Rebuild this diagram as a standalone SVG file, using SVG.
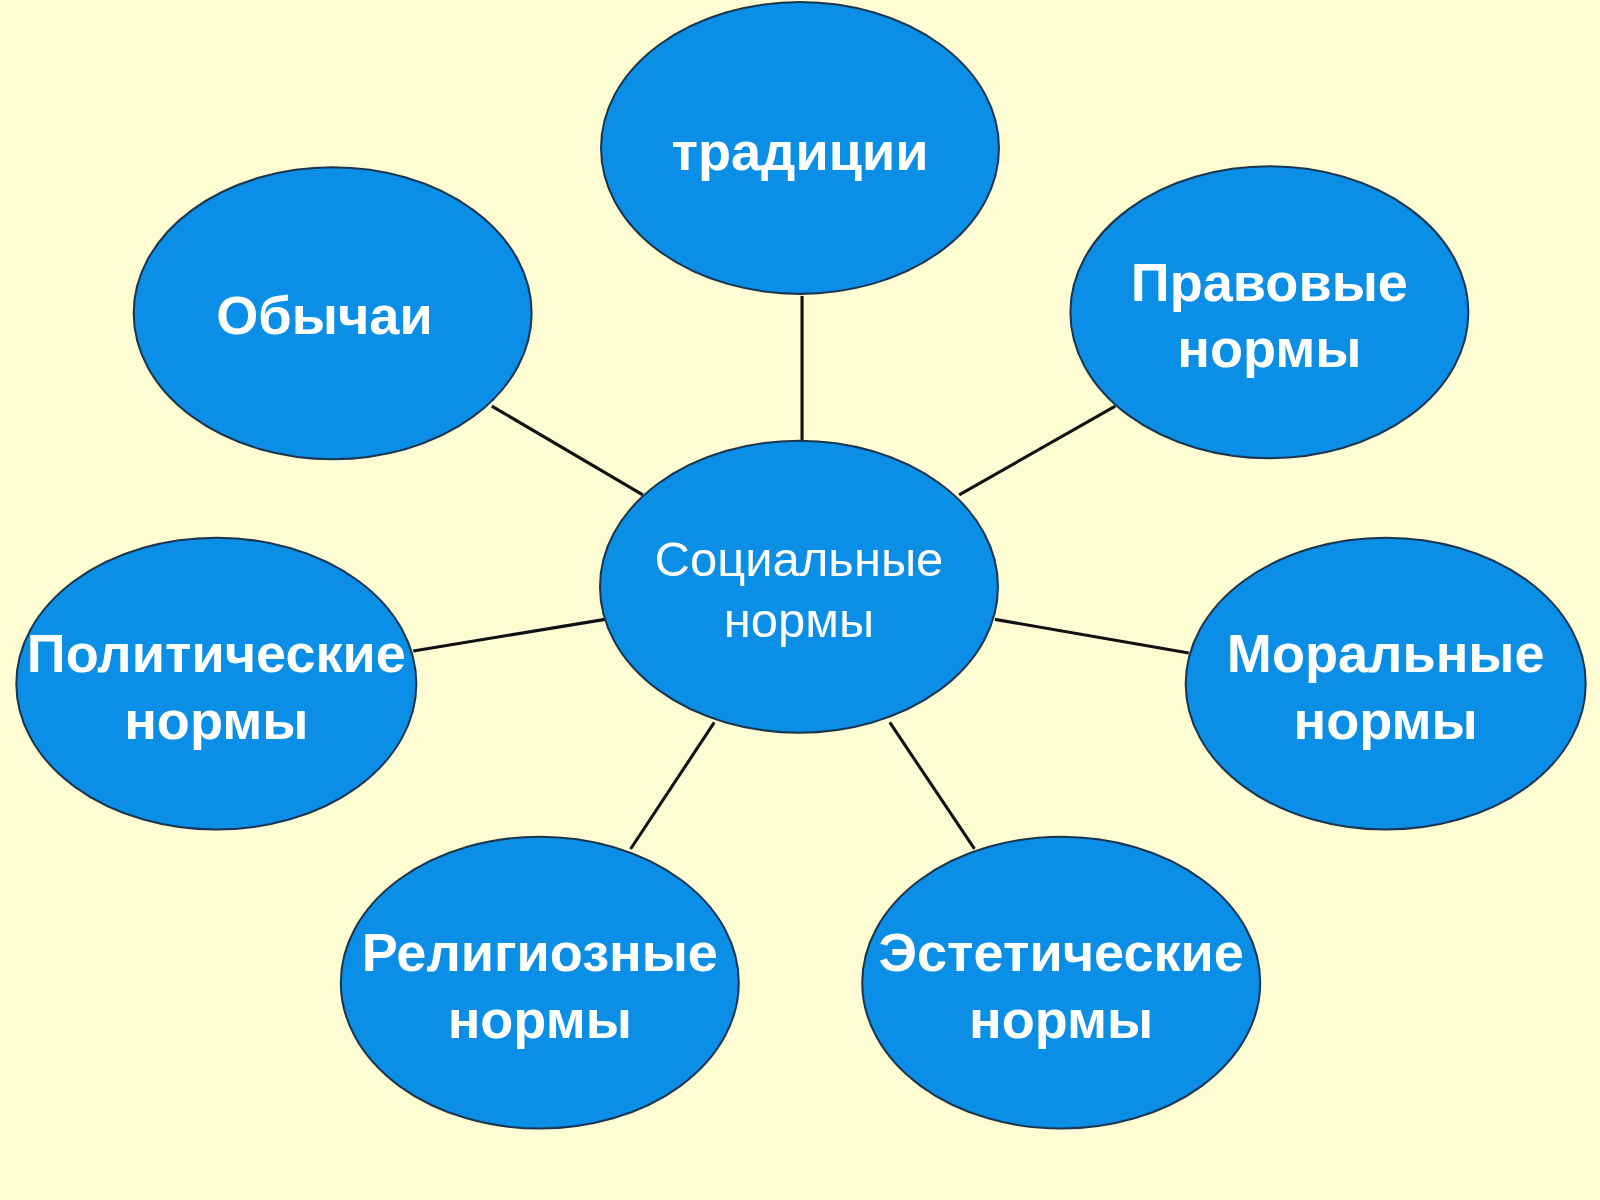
<svg xmlns="http://www.w3.org/2000/svg" width="1600" height="1200" viewBox="0 0 1600 1200">
<style>
.n{fill:#0B8FE6;stroke:#1a3550;stroke-width:2}
.t{fill:#fff;font-family:"Liberation Sans",Arial,sans-serif;font-weight:bold;font-size:53px;text-anchor:middle}
.c{fill:#fff;font-family:"Liberation Sans",Arial,sans-serif;font-size:48px;text-anchor:middle}
.l{stroke:#111;stroke-width:3}
</style>
<rect width="1600" height="1200" fill="#FDFCD2"/>
<g transform="scale(1.0204)">
<g id="connectors">
<line class="l" x1="786" y1="290" x2="786" y2="432"/>
<line class="l" x1="482" y1="398" x2="630" y2="485"/>
<line class="l" x1="1093" y1="398" x2="940" y2="485"/>
<line class="l" x1="405" y1="638" x2="593" y2="607"/>
<line class="l" x1="975" y1="607" x2="1165" y2="640"/>
<line class="l" x1="700" y1="708" x2="618" y2="832"/>
<line class="l" x1="872" y1="708" x2="955" y2="832"/>
</g>
<g id="center"><ellipse class="n" cx="783" cy="575" rx="195" ry="143"/><text class="c" x="783" y="564">Социальные</text><text class="c" x="783" y="624">нормы</text></g>
<g id="traditions"><ellipse class="n" cx="784" cy="145" rx="195" ry="143"/><text class="t" x="784" y="167">традиции</text></g>
<g id="customs"><ellipse class="n" cx="326" cy="307" rx="195" ry="143"/><text class="t" x="318" y="327">Обычаи</text></g>
<g id="legal"><ellipse class="n" cx="1244" cy="306" rx="195" ry="143"/><text class="t" x="1244" y="295">Правовые</text><text class="t" x="1244" y="360">нормы</text></g>
<g id="political"><ellipse class="n" cx="212" cy="670" rx="196" ry="143"/><text class="t" x="212" y="659">Политические</text><text class="t" x="212" y="724">нормы</text></g>
<g id="moral"><ellipse class="n" cx="1358" cy="670" rx="196" ry="143"/><text class="t" x="1358" y="659">Моральные</text><text class="t" x="1358" y="724">нормы</text></g>
<g id="religious"><ellipse class="n" cx="529" cy="963" rx="195" ry="143"/><text class="t" x="529" y="952">Религиозные</text><text class="t" x="529" y="1017">нормы</text></g>
<g id="aesthetic"><ellipse class="n" cx="1040" cy="963" rx="195" ry="143"/><text class="t" x="1040" y="952">Эстетические</text><text class="t" x="1040" y="1017">нормы</text></g>
</g>
</svg>
